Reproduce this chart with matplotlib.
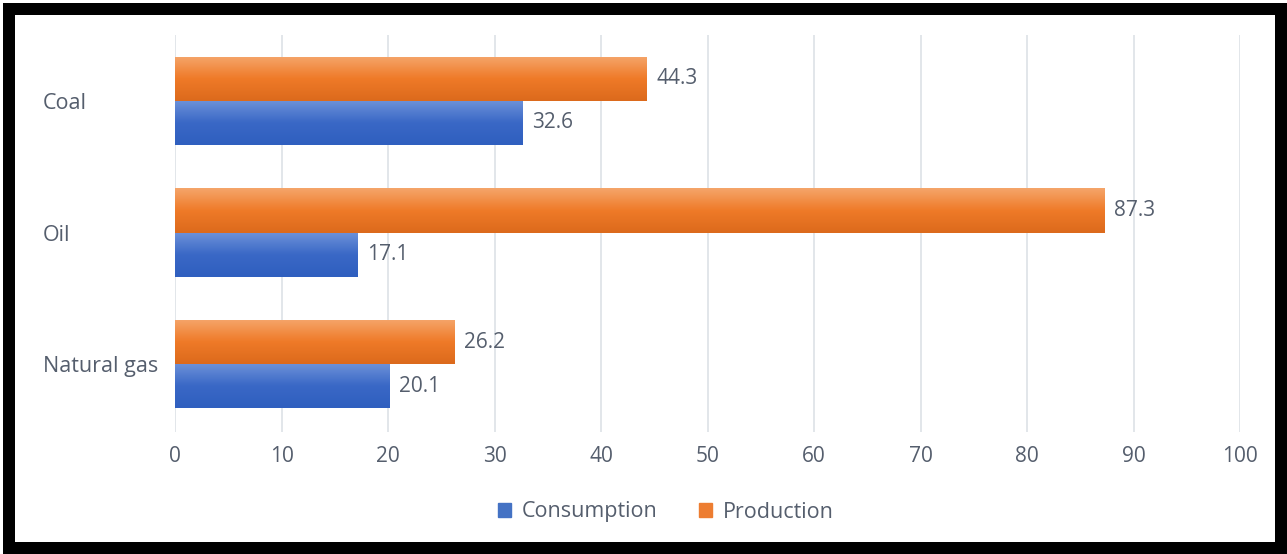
import matplotlib
matplotlib.use("Agg")
import matplotlib.pyplot as plt
import numpy as np
from matplotlib.colors import LinearSegmentedColormap
from matplotlib.patches import Rectangle, Patch

categories = ["Coal", "Oil", "Natural gas"]
consumption = [32.6, 17.1, 20.1]
production = [44.3, 87.3, 26.2]
xticks = [0, 10, 20, 30, 40, 50, 60, 70, 80, 90, 100]

text_color = "#555e6d"
blue = "#4472c4"
orange = "#ed7d31"
blue_grad = LinearSegmentedColormap.from_list("b", ["#2f5fbf", "#3a68c6", "#6d92d9"])
orange_grad = LinearSegmentedColormap.from_list("o", ["#dc6a1c", "#ef7a28", "#f5a56a"])

plt.rcParams['font.family'] = ['Open Sans', 'DejaVu Sans']

W, H = 1287, 554
fig = plt.figure(figsize=(W / 100, H / 100), dpi=100)
ax = fig.add_axes([175 / W, 1 - 432 / H, (1240 - 175) / W, (432 - 35) / H])

y = np.arange(len(categories))[::-1]
h = 0.335
fs = 15


def gradient_bars(bars, cmap):
    # vertical gradient clipped to each bar
    for b in bars:
        x0, y0 = b.get_x(), b.get_y()
        w, hh = b.get_width(), b.get_height()
        grad = np.linspace(0, 1, 64).reshape(-1, 1)
        im = ax.imshow(grad, cmap=cmap, aspect="auto", origin="lower",
                       extent=[x0, x0 + w, y0, y0 + hh], zorder=3)
        im.set_clip_path(b)
        b.set_alpha(0)


cons_bars = ax.barh(y - h / 2, consumption, height=h, color=blue, zorder=2)
prod_bars = ax.barh(y + h / 2, production, height=h, color=orange, zorder=2)
gradient_bars(cons_bars, blue_grad)
gradient_bars(prod_bars, orange_grad)

for yy, v in zip(y - h / 2, consumption):
    ax.text(v + 0.9, yy, f"{v:.1f}", va="center", ha="left", fontsize=fs, color=text_color, zorder=4)
for yy, v in zip(y + h / 2, production):
    ax.text(v + 0.9, yy, f"{v:.1f}", va="center", ha="left", fontsize=fs, color=text_color, zorder=4)

ax.set_xlim(0, 100)
ax.set_ylim(-0.515, 2.5)
ax.set_xticks(xticks)
ax.set_yticks(y)
ax.set_yticklabels(categories)
ax.grid(axis="x", color="#dde1e6", linewidth=1.2, zorder=0)
ax.tick_params(length=0, labelsize=fs, labelcolor=text_color)
ax.tick_params(axis="x", pad=10)
ax.tick_params(axis="y", pad=0, labelsize=15.5)
for lab in ax.get_yticklabels():
    lab.set_horizontalalignment("left")
    lab.set_x(-(175 - 43) / (1240 - 175))
for s in ax.spines.values():
    s.set_visible(False)

handles = [Patch(facecolor=blue, edgecolor=blue), Patch(facecolor=orange, edgecolor=orange)]
fig.legend(handles, ["Consumption", "Production"], loc="center",
           bbox_to_anchor=(666 / W, 1 - 512 / H), ncol=2, frameon=False,
           fontsize=15.5, labelcolor=text_color, handlelength=0.62, handleheight=0.62,
           handletextpad=0.5, columnspacing=1.9)

fig.patches.append(Rectangle((9 / W, 6 / H), 1272 / W, 539 / H, transform=fig.transFigure,
                             fill=False, edgecolor="black", linewidth=12 * 0.72, zorder=10))

fig.savefig("out.png", dpi=100)
